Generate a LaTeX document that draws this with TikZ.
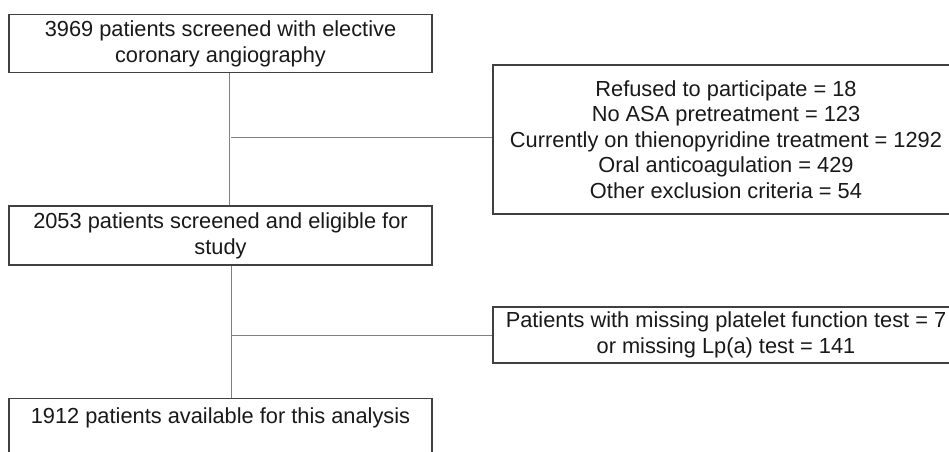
\documentclass[tikz,border=0pt]{standalone}
\usepackage{fontspec}
\setmainfont{Liberation Sans}
\begin{document}
\begin{tikzpicture}[x=1pt,y=-1pt,
  box/.style={draw=black!75, line width=1.2pt, fill=white, align=center, inner sep=0pt,
    font=\fontsize{21.8}{26}\selectfont, text=black!90},
  link/.style={draw=black!50, line width=1pt}]
\useasboundingbox (0,0) rectangle (949,451);
\clip (0,0) rectangle (949,451);
\fill[white] (0,0) rectangle (949,451);
\node[box, minimum width=423pt, minimum height=58.5pt] (A) at (220.5,43.5)
  {3969 patients screened with elective\\coronary angiography};
\node[box, minimum width=423pt, minimum height=59pt] (B) at (220.5,235.5)
  {2053 patients screened and eligible for\\study};
\node[box, minimum width=423pt, anchor=north, text height=15.6pt, text depth=40pt,
  inner ysep=9.4pt] (C) at (220.5,398)
  {1912 patients available for this analysis};
\node[box, minimum width=466pt, minimum height=149pt, font=\fontsize{21.8}{25.5}\selectfont] (R1) at (726,139.5)
  {Refused to participate = 18\\No ASA pretreatment = 123\\Currently on thienopyridine treatment = 1292\\Oral anticoagulation = 429\\Other exclusion criteria = 54};
\node[box, minimum width=466pt, minimum height=56pt] (R2) at (726,335)
  {Patients with missing platelet function test = 7\\or missing Lp(a) test = 141};
\draw[link] ([xshift=9pt]A.south) -- ([xshift=9pt]A.south |- B.north);
\draw[link] ([xshift=11pt]B.south) -- ([xshift=11pt]B.south |- C.north);
\coordinate (j1) at (231,137);
\coordinate (j2) at (232,335.5);
\draw[link] (j1) -- (j1 -| R1.west);
\draw[link] (j2) -- (j2 -| R2.west);
\end{tikzpicture}
\end{document}
